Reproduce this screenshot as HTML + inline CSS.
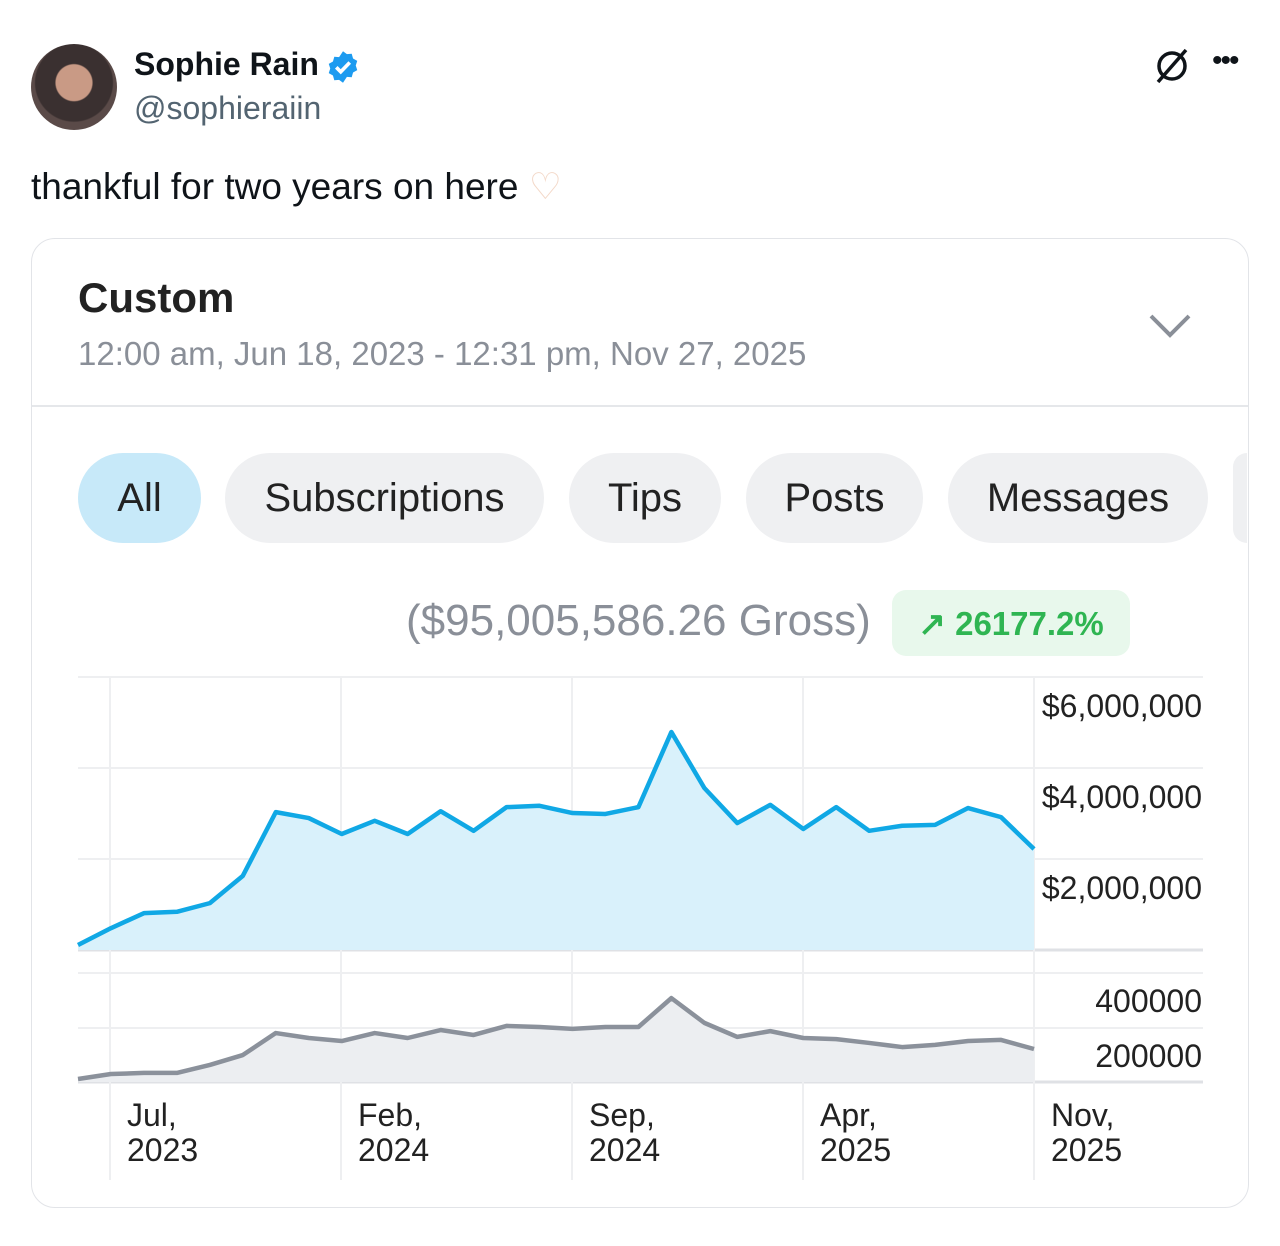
<!DOCTYPE html>
<html><head><meta charset="utf-8">
<style>
body{margin:0;width:1280px;height:1246px;background:#fff;font-family:"Liberation Sans",sans-serif;position:relative;overflow:hidden}
.abs{position:absolute}
.pill{position:absolute;top:453px;height:90px;border-radius:45px;background:#eff0f2;font-size:40px;color:#222;display:flex;align-items:center;justify-content:center}
</style></head><body>
<div class="abs" style="left:31px;top:44px;width:86px;height:86px;border-radius:50%;background:radial-gradient(circle at 50% 45%,#c99a85 0 28%,#3a3030 30% 60%,#5a4a48 62%)"></div>
<div class="abs" style="left:134px;top:46px;font-size:32px;font-weight:bold;color:#0f1419">Sophie Rain</div>
<svg class="abs" style="left:325px;top:49px" width="36" height="36" viewBox="0 0 24 24"><path d="M12 1.5l2.6 1.9 3.2-.2.9 3.1 2.8 1.6-1 3.1 1 3.1-2.8 1.6-.9 3.1-3.2-.2L12 22.5l-2.6-1.9-3.2.2-.9-3.1-2.8-1.6 1-3.1-1-3.1 2.8-1.6.9-3.1 3.2.2z" fill="#1d9bf0"/><path d="M7.5 12.2l3 3 6-6.2" stroke="#fff" stroke-width="2.4" fill="none"/></svg>
<div class="abs" style="left:134px;top:90px;font-size:32px;color:#536471">@sophieraiin</div>
<svg class="abs" style="left:1152px;top:46px" width="40" height="40" viewBox="0 0 40 40"><circle cx="20" cy="20" r="13" stroke="#0f1419" stroke-width="3.5" fill="none"/><line x1="6" y1="36" x2="34" y2="4" stroke="#0f1419" stroke-width="3.5"/></svg>
<div class="abs" style="left:1212px;top:44px;font-size:30px;color:#0f1419;letter-spacing:-2px">•••</div>
<div class="abs" style="left:31px;top:165px;font-size:37px;color:#0f1419">thankful for two years on here <span style="color:#f3d8c8">♡</span></div>

<div class="abs" style="left:31px;top:238px;width:1216px;height:968px;border:1.5px solid #e2e4e8;border-radius:24px;overflow:hidden">
  <div class="abs" style="left:0;top:166px;width:1216px;height:2px;background:#e5e7ea"></div>
</div>
<div class="abs" style="left:78px;top:274px;font-size:42px;font-weight:bold;color:#222">Custom</div>
<div class="abs" style="left:78px;top:335px;font-size:33px;color:#8a8f98">12:00 am, Jun 18, 2023 - 12:31 pm, Nov 27, 2025</div>
<svg class="abs" style="left:1148px;top:312px" width="44" height="28"><path d="M3 4l19 19 19-19" stroke="#8a8f98" stroke-width="4" fill="none"/></svg>

<div class="pill" style="left:78px;width:123px;background:#c7e9f9">All</div>
<div class="pill" style="left:225px;width:319px">Subscriptions</div>
<div class="pill" style="left:569px;width:152px">Tips</div>
<div class="pill" style="left:746px;width:177px">Posts</div>
<div class="pill" style="left:948px;width:260px">Messages</div>
<div class="pill" style="left:1233px;width:14px;border-radius:45px 0 0 45px"></div>

<div class="abs" style="left:406px;top:596px;font-size:44px;color:#8a8f98">($95,005,586.26 Gross)</div>
<div class="abs" style="left:892px;top:590px;width:238px;height:66px;border-radius:14px;background:#e8f8ec;color:#2fb552;font-size:33px;font-weight:600;display:flex;align-items:center;justify-content:center">↗ 26177.2%</div>

<svg class="abs" id="chart" style="left:0;top:0" width="1280" height="1246"></svg>
<script>
const months=["Jul,|2023","Feb,|2024","Sep,|2024","Apr,|2025","Nov,|2025"];
const grossValues=[0.11,0.48,0.81,0.84,1.03,1.63,3.03,2.9,2.55,2.84,2.55,3.05,2.62,3.14,3.17,3.01,2.99,3.14,4.79,3.56,2.79,3.19,2.66,3.14,2.62,2.73,2.75,3.12,2.92,2.22];
const countValues=[11,29,33,33,62,98,178,160,149,178,160,189,171,204,200,193,200,200,305,215,164,185,160,156,142,127,135,149,153,120];
const grossTicks=[2,4,6];
const grossTickLabels=["$2,000,000","$4,000,000","$6,000,000"];
const countTicks=[200,400];
const countTickLabels=["200000","400000"];
const NS="http://www.w3.org/2000/svg";
const svg=document.getElementById('chart');
function mk(t,a){const e=document.createElementNS(NS,t);for(const k in a)e.setAttribute(k,a[k]);svg.appendChild(e);return e;}
const x0=78,x1=1034,n=grossValues.length;
const xs=i=>x0+(x1-x0)*i/(n-1);
const yG=v=>950-v*45.5;
const yC=v=>1082-v*0.275;
[677,768,859,950,973,1028,1082].forEach((y,i)=>{const l=mk('line',{x1:78,x2:1203,y1:y,y2:y,stroke:(y==950||y==1082)?'#dfe1e5':'#eeeff1','stroke-width':(y==950||y==1082)?3:2});});
months.forEach((m,i)=>{const x=110+231*i;const l=mk('line',{x1:x,x2:x,y1:677,y2:1180,stroke:'#eeeff1','stroke-width':2});
const t=mk('text',{x:x+17,y:1126,'font-size':32,fill:'#222','font-family':'Liberation Sans'});
const p=m.split('|');const a=document.createElementNS(NS,'tspan');a.setAttribute('x',x+17);a.textContent=p[0];t.appendChild(a);const b=document.createElementNS(NS,'tspan');b.setAttribute('x',x+17);b.setAttribute('dy',35);b.textContent=p[1];t.appendChild(b);});
function series(vals,yf,base,stroke,fill,name){
 let d=vals.map((v,i)=>(i?'L':'M')+xs(i)+','+yf(v)).join('');
 const a=mk('path',{d:d+'L'+x1+','+base+'L'+x0+','+base+'Z',fill:fill});
 const l=mk('path',{d:d,fill:'none',stroke:stroke,'stroke-width':4.5,'stroke-linejoin':'round'});
}
series(grossValues,yG,950,'#10a8e5','#d9f1fb','gross');
series(countValues,yC,1082,'#8b919b','#eceef1','count');
grossTicks.forEach((v,i)=>{const t=mk('text',{x:1202,y:yG(v)+40,'text-anchor':'end','font-size':32,fill:'#222','font-family':'Liberation Sans'});t.textContent=grossTickLabels[i];});
countTicks.forEach((v,i)=>{const t=mk('text',{x:1202,y:yC(v)+40,'text-anchor':'end','font-size':32,fill:'#222','font-family':'Liberation Sans'});t.textContent=countTickLabels[i];});
</script>
</body></html>
